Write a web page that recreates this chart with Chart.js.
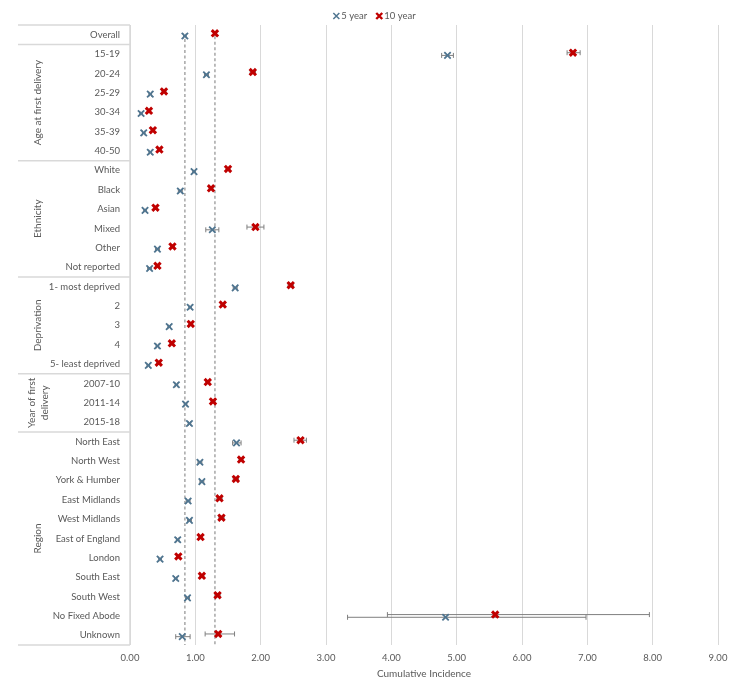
<!DOCTYPE html>
<html>
<head>
<meta charset="utf-8">
<script src="https://cdn.jsdelivr.net/npm/chart.js@4/dist/chart.umd.min.js"></script>
<style>
html,body{margin:0;padding:0;background:#fff;}
#wrap{width:745px;height:684px;position:relative;}
</style>
</head>
<body>
<div id="wrap"><canvas id="c" width="745" height="684"></canvas></div>
<script>
const categories = ['Overall','15-19','20-24','25-29','30-34','35-39','40-50',
  'White','Black','Asian','Mixed','Other','Not reported',
  '1- most deprived','2','3','4','5- least deprived',
  '2007-10','2011-14','2015-18',
  'North East','North West','York & Humber','East Midlands','West Midlands','East of England','London','South East','South West','No Fixed Abode','Unknown'];

const groupLabels = [['Age at first delivery'],['Ethnicity'],['Deprivation'],['Year of first','delivery'],['Region']];
const groupFirstRow = [1,7,13,18,21];
const groupLastRow = [6,12,17,20,31];

const seriesNames = ['5 year','10 year'];

const fiveYear = [0.84,4.86,1.17,0.31,0.17,0.21,0.31,0.98,0.77,0.23,1.26,0.42,0.30,1.61,0.92,0.60,0.42,0.28,0.71,0.85,0.91,1.63,1.07,1.10,0.89,0.91,0.73,0.46,0.70,0.88,4.83,0.80];
const fiveYearLow = [0.82,4.77,1.14,0.29,0.15,0.19,0.29,0.96,0.74,0.21,1.16,0.39,0.27,1.58,0.90,0.58,0.40,0.26,0.69,0.83,0.89,1.57,1.04,1.07,0.86,0.88,0.71,0.44,0.68,0.85,3.33,0.70];
const fiveYearHigh = [0.86,4.95,1.20,0.33,0.19,0.23,0.33,1.00,0.80,0.25,1.36,0.45,0.33,1.64,0.94,0.62,0.44,0.30,0.73,0.87,0.93,1.70,1.10,1.13,0.92,0.94,0.75,0.48,0.72,0.91,6.98,0.92];

const tenYear = [1.30,6.78,1.88,0.52,0.29,0.35,0.45,1.50,1.24,0.39,1.92,0.65,0.42,2.46,1.42,0.93,0.64,0.44,1.19,1.27,null,2.61,1.70,1.62,1.37,1.40,1.08,0.74,1.10,1.34,5.59,1.35];
const tenYearLow = [1.28,6.69,1.84,0.49,0.27,0.33,0.42,1.47,1.21,0.37,1.79,0.62,0.39,2.42,1.39,0.90,0.61,0.41,1.16,1.24,null,2.51,1.67,1.58,1.33,1.36,1.05,0.72,1.07,1.30,3.94,1.15];
const tenYearHigh = [1.32,6.89,1.92,0.55,0.31,0.37,0.48,1.53,1.27,0.41,2.05,0.68,0.45,2.50,1.45,0.96,0.67,0.47,1.22,1.30,null,2.70,1.73,1.66,1.41,1.44,1.11,0.76,1.13,1.38,7.95,1.60];

const xTicks = [0,1,2,3,4,5,6,7,8,9];

const FONT = 'Lato, "Liberation Sans", sans-serif';
const TXT = '#595959';
const BLUE = '#4f7590';
const RED = '#c00000';
const OFF = 0.07;

function pts(vals, off){
  const out=[];
  vals.forEach((v,i)=>{ if(v!==null) out.push({x:v,y:i+off}); });
  return out;
}

function cross(ctx,cx,cy,r,color,w){
  ctx.save();
  ctx.strokeStyle=color;ctx.lineWidth=w;
  ctx.beginPath();
  ctx.moveTo(cx-r,cy-r);ctx.lineTo(cx+r,cy+r);
  ctx.moveTo(cx-r,cy+r);ctx.lineTo(cx+r,cy-r);
  ctx.stroke();
  ctx.restore();
}

const errPlugin = {
  id:'err',
  beforeDatasetsDraw(chart){
    const {ctx, scales:{x,y}} = chart;
    ctx.save();
    ctx.strokeStyle='#7f7f7f';
    ctx.lineWidth=1;
    const sets=[[fiveYear,fiveYearLow,fiveYearHigh,OFF],[tenYear,tenYearLow,tenYearHigh,-OFF]];
    sets.forEach(([v,lo,hi,off])=>{
      v.forEach((val,i)=>{
        if(val===null) return;
        const py=y.getPixelForValue(i+off);
        const x1=x.getPixelForValue(lo[i]), x2=x.getPixelForValue(hi[i]);
        ctx.beginPath();
        ctx.moveTo(x1,py);ctx.lineTo(x2,py);
        ctx.moveTo(x1,py-2.5);ctx.lineTo(x1,py+2.5);
        ctx.moveTo(x2,py-2.5);ctx.lineTo(x2,py+2.5);
        ctx.stroke();
      });
    });
    ctx.strokeStyle='#a6a6a6';
    ctx.lineWidth=1.5;
    ctx.setLineDash([3,2.5]);
    [[fiveYear[0],OFF],[tenYear[0],-OFF]].forEach(([v,off])=>{
      const px=x.getPixelForValue(v);
      ctx.beginPath();
      ctx.moveTo(px,y.getPixelForValue(0+off)+3);
      ctx.lineTo(px,chart.chartArea.bottom);
      ctx.stroke();
    });
    ctx.restore();
  },
  afterDraw(chart){
    const {ctx, scales:{y}, chartArea} = chart;
    ctx.save();
    ctx.strokeStyle='#d9d9d9';
    ctx.lineWidth=1.5;
    const bounds=[-0.5,0.5];
    groupLastRow.forEach(r=>bounds.push(r+0.5));
    bounds.forEach(b=>{
      const py=y.getPixelForValue(b);
      ctx.beginPath();ctx.moveTo(18,py);ctx.lineTo(chartArea.left,py);ctx.stroke();
    });
    ctx.beginPath();
    ctx.moveTo(chartArea.left,y.getPixelForValue(-0.5));
    ctx.lineTo(chartArea.left,y.getPixelForValue(31.5));
    ctx.stroke();
    ctx.fillStyle=TXT;
    ctx.font='10px '+FONT;
    ctx.textAlign='center';
    ctx.textBaseline='middle';
    groupLabels.forEach((lines,g)=>{
      const py=(y.getPixelForValue(groupFirstRow[g]-0.5)+y.getPixelForValue(groupLastRow[g]+0.5))/2;
      ctx.save();
      ctx.translate(38,py);
      ctx.rotate(-Math.PI/2);
      const n=lines.length;
      lines.forEach((t,k)=>{
        ctx.fillText(t,0,(k-(n-1)/2)*13);
      });
      ctx.restore();
    });
    ctx.font='9.5px '+FONT;
    ctx.textAlign='left';
    const w0=ctx.measureText(seriesNames[0]).width, w1=ctx.measureText(seriesNames[1]).width;
    const gap=8, mk=9;
    const total=mk+w0+gap+mk+w1;
    let lx=375-total/2;
    const ly=16;
    cross(ctx,lx+3,ly,3,BLUE,1.5);
    ctx.fillStyle=TXT;
    ctx.fillText(seriesNames[0],lx+mk-1,ly);
    lx+=mk+w0+gap;
    cross(ctx,lx+3,ly,3,RED,2.4);
    ctx.fillStyle=TXT;
    ctx.fillText(seriesNames[1],lx+mk-1,ly);
    ctx.restore();
  }
};

new Chart(document.getElementById('c'),{
  type:'scatter',
  data:{
    datasets:[
      {label:seriesNames[0],data:pts(fiveYear,OFF),pointStyle:'crossRot',radius:4.5,hoverRadius:4.5,borderColor:BLUE,backgroundColor:BLUE,borderWidth:1.8},
      {label:seriesNames[1],data:pts(tenYear,-OFF),pointStyle:'crossRot',radius:4.5,hoverRadius:4.5,borderColor:RED,backgroundColor:RED,borderWidth:3}
    ]
  },
  options:{
    responsive:false,
    animation:false,
    layout:{padding:{left:0,right:27,top:25,bottom:0}},
    plugins:{
      legend:{display:false},
      tooltip:{enabled:false}
    },
    scales:{
      x:{
        type:'linear',min:0,max:9,
        afterBuildTicks(s){ s.ticks = xTicks.map(v=>({value:v})); },
        afterFit(s){ s.height=39; },
        ticks:{callback:v=>Number(v).toFixed(2),color:TXT,font:{family:FONT,size:9.5},padding:7},
        grid:{color:'#d9d9d9',lineWidth:1,drawTicks:false},
        border:{display:false},
        title:{display:true,text:'Cumulative Incidence',color:TXT,font:{family:FONT,size:10},padding:{top:0,bottom:4}}
      },
      y:{
        type:'linear',min:-0.5,max:31.5,reverse:true,
        afterBuildTicks(s){ s.ticks = categories.map((c,i)=>({value:i})); },
        afterFit(s){ s.width=130; },
        ticks:{callback:(v)=>categories[v],color:TXT,font:{family:FONT,size:9.5},padding:10,autoSkip:false},
        grid:{display:false,drawTicks:false},
        border:{display:false}
      }
    }
  },
  plugins:[errPlugin]
});
</script>
</body>
</html>
